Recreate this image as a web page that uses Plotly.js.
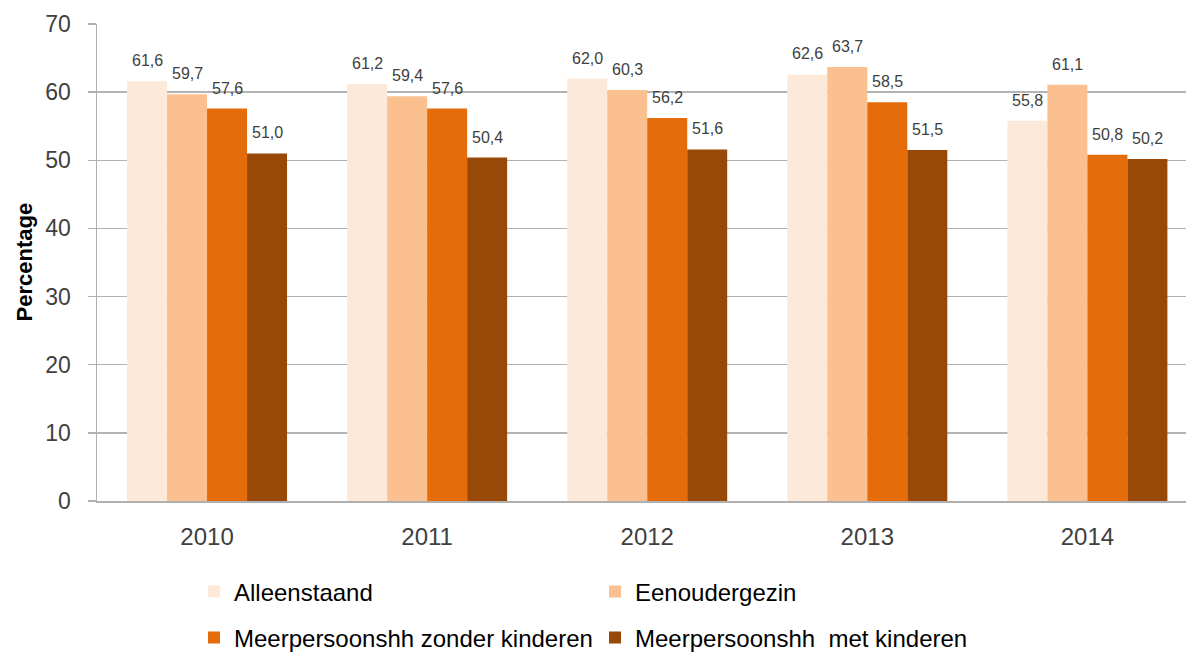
<!DOCTYPE html>
<html>
<head>
<meta charset="utf-8">
<script src="https://cdn.plot.ly/plotly-3.0.1.min.js"></script>
<style>html,body{margin:0;padding:0;background:#fff;}#chart{width:1186px;height:652px;}</style>
</head>
<body>
<div id="chart"></div>
<script>
const years = ['2010', '2011', '2012', '2013', '2014'];
const seriesNames = ['Alleenstaand', 'Eenoudergezin', 'Meerpersoonshh zonder kinderen', 'Meerpersoonshh  met kinderen'];
const alleenstaand = [61.6, 61.2, 62.0, 62.6, 55.8];
const eenoudergezin = [59.7, 59.4, 60.3, 63.7, 61.1];
const zonderKinderen = [57.6, 57.6, 56.2, 58.5, 50.8];
const metKinderen = [51.0, 50.4, 51.6, 51.5, 50.2];
const yTicks = [0, 10, 20, 30, 40, 50, 60, 70];
const yTitle = 'Percentage';

const values = [alleenstaand, eenoudergezin, zonderKinderen, metKinderen];
const colors = ['#FDE9D9', '#FAC090', '#E46C0A', '#984807'];
const legends = ['legend', 'legend', 'legend2', 'legend2'];
const fmt = v => v.toFixed(1).replace('.', ',');

const W = 1186, H = 652;
const margin = {l: 97, r: 0, t: 24, b: 151, pad: 0};
const xRange = [-0.5, 4.448];
const bargap = 0.273;
const plotW = W - margin.l - margin.r;
const catPx = plotW / (xRange[1] - xRange[0]);
const barPx = catPx * (1 - bargap) / values.length;
const fontFam = 'Liberation Sans, Arial, sans-serif';

const traces = values.map((vals, i) => ({
  type: 'bar',
  name: seriesNames[i],
  x: years,
  y: vals,
  marker: {color: colors[i], line: {width: 0}},
  legend: legends[i],
  hoverinfo: 'x+y+name'
}));

const annotations = [];
values.forEach((vals, i) => {
  vals.forEach((v, j) => {
    annotations.push({
      x: j, y: v, xref: 'x', yref: 'y',
      text: fmt(v), showarrow: false,
      xanchor: 'center', yanchor: 'bottom',
      xshift: (i - (values.length - 1) / 2) * barPx,
      yshift: 10,
      font: {family: fontFam, size: 16, color: '#404040'}
    });
  });
});
annotations.push({
  xref: 'paper', yref: 'paper',
  x: (24 - margin.l) / plotW, y: 0.5,
  xanchor: 'center', yanchor: 'middle',
  textangle: -90, showarrow: false,
  text: '<b>' + yTitle + '</b>',
  font: {family: fontFam, size: 22, color: '#000000'}
});

const legendBase = {
  orientation: 'h',
  xref: 'container', yref: 'container',
  x: 194 / W,
  xanchor: 'left', yanchor: 'middle',
  entrywidth: 356,
  itemwidth: 30,
  traceorder: 'normal',
  font: {family: fontFam, size: 24, color: '#000000'},
  bgcolor: 'rgba(0,0,0,0)'
};

const layout = {
  width: W, height: H,
  margin: margin,
  paper_bgcolor: '#ffffff',
  plot_bgcolor: '#ffffff',
  barmode: 'group',
  bargap: bargap,
  bargroupgap: 0,
  font: {family: fontFam, color: '#404040'},
  xaxis: {
    type: 'category',
    range: xRange,
    showgrid: false,
    showline: true,
    linecolor: '#b0b0b0',
    linewidth: 1.5,
    ticks: '',
    ticklabelstandoff: 14,
    tickfont: {family: fontFam, size: 24, color: '#404040'},
    fixedrange: true
  },
  yaxis: {
    range: [0, 70],
    tickvals: yTicks,
    ticktext: yTicks.map(String),
    showgrid: true,
    gridcolor: '#b3b3b3',
    gridwidth: 1.5,
    zeroline: false,
    showline: true,
    linecolor: '#b0b0b0',
    linewidth: 1.5,
    ticks: 'outside',
    ticklen: 8,
    tickwidth: 1.5,
    tickcolor: '#b0b0b0',
    ticklabelstandoff: 12,
    tickfont: {family: fontFam, size: 23, color: '#404040'},
    fixedrange: true
  },
  legend: Object.assign({}, legendBase, {y: 1 - 592 / H}),
  legend2: Object.assign({}, legendBase, {y: 1 - 638 / H}),
  annotations: annotations,
  showlegend: true
};

Plotly.newPlot('chart', traces, layout, {displayModeBar: false, staticPlot: true});
</script>
</body>
</html>
